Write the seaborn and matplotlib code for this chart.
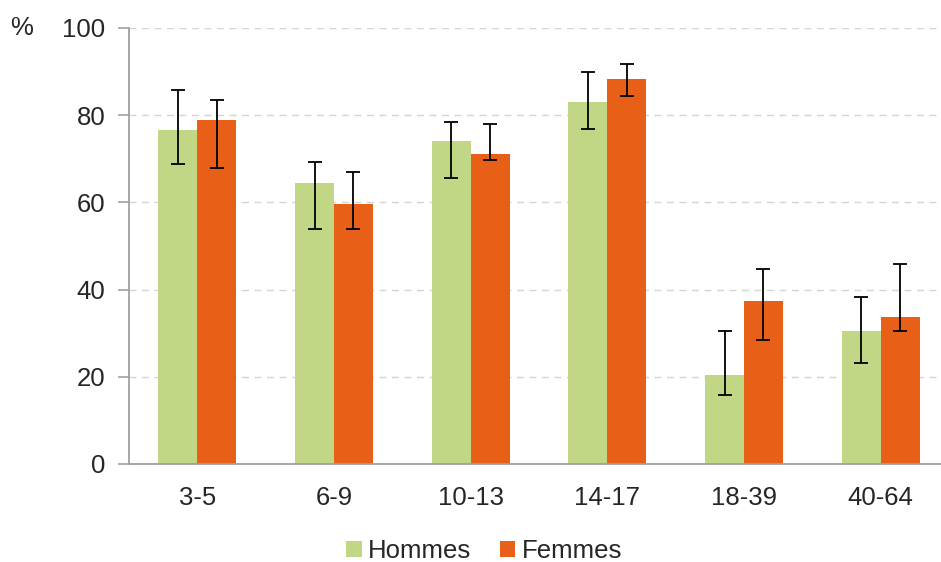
import matplotlib
matplotlib.use("Agg")
import matplotlib.pyplot as plt
import numpy as np
import pandas as pd
import seaborn as sns

ages = ["3-5", "6-9", "10-13", "14-17", "18-39", "40-64"]
hommes = [76.6, 64.5, 74.0, 83.1, 20.5, 30.4]
hommes_low = [68.9, 54.0, 65.5, 76.9, 15.8, 23.1]
hommes_high = [85.7, 69.3, 78.4, 89.8, 30.6, 38.2]
femmes = [79.0, 59.6, 71.0, 88.4, 37.3, 33.8]
femmes_low = [67.8, 54.0, 69.7, 84.5, 28.4, 30.6]
femmes_high = [83.4, 67.0, 78.0, 91.8, 44.7, 45.8]
groups = ["Hommes", "Femmes"]
colors = ["#c2d786", "#e85f17"]

sns.set_theme(style="white")
plt.rcParams["font.family"] = ["Liberation Sans", "DejaVu Sans"]
text_color = "#262626"
fs = 18.5

df = pd.DataFrame({
    "age": ages * 2,
    "pct": hommes + femmes,
    "sexe": [groups[0]] * len(ages) + [groups[1]] * len(ages),
})

fig = plt.figure(figsize=(9.41, 5.62), dpi=100)
ax = fig.add_axes([0.1371, 0.1744, 0.8714, 0.7758])

sns.barplot(data=df, x="age", y="pct", hue="sexe", order=ages, hue_order=groups,
            palette=colors, width=0.57, errorbar=None, saturation=1,
            linewidth=0, ax=ax)

# error bars drawn at the centre of each bar seaborn placed
lows = [hommes_low, femmes_low]
highs = [hommes_high, femmes_high]
for cont, vals, lo, hi in zip(ax.containers, [hommes, femmes], lows, highs):
    xs = [p.get_x() + p.get_width() / 2 for p in cont.patches]
    v = np.array(vals)
    err = [v - np.array(lo), np.array(hi) - v]
    ax.errorbar(xs, v, yerr=err, fmt="none", ecolor="black", elinewidth=1.3,
                capsize=4.8, capthick=1.3, zorder=5)

handles, labels = ax.get_legend_handles_labels()
ax.get_legend().remove()

ax.set_ylim(0, 100)
ax.set_xlim(-0.5, len(ages) - 0.5)
ax.set_yticks([0, 20, 40, 60, 80, 100])
ax.yaxis.grid(True, linestyle=(0, (5, 4)), color="#d4d4d4", linewidth=1)
ax.set_axisbelow(True)
ax.set_xlabel("")
ax.set_ylabel("")

ax.set_xticks(np.arange(-0.5, len(ages), 1.0), minor=True)
ax.tick_params(axis="x", which="minor", length=8, width=1.2, color="#a0a0a0", direction="out")
ax.tick_params(axis="x", which="major", length=0, pad=16, labelsize=fs, labelcolor=text_color)
ax.tick_params(axis="y", length=8, width=1.2, color="#a0a0a0", direction="out", pad=9,
               labelsize=fs, labelcolor=text_color, left=True)

for side in ["top", "right"]:
    ax.spines[side].set_visible(False)
for side in ["left", "bottom"]:
    ax.spines[side].set_color("#a0a0a0")
    ax.spines[side].set_linewidth(1.3)

fig.text(22 / 941, 1 - 28 / 562, "%", fontsize=fs, color=text_color, ha="center", va="center")

fig.legend(handles, labels, loc="center", bbox_to_anchor=(484 / 941, 11 / 562), ncol=2,
           frameon=False, fontsize=fs, handlelength=0.6, handleheight=0.6,
           handletextpad=0.25, columnspacing=1.1, labelcolor=text_color)

fig.savefig("out.png", dpi=100)
